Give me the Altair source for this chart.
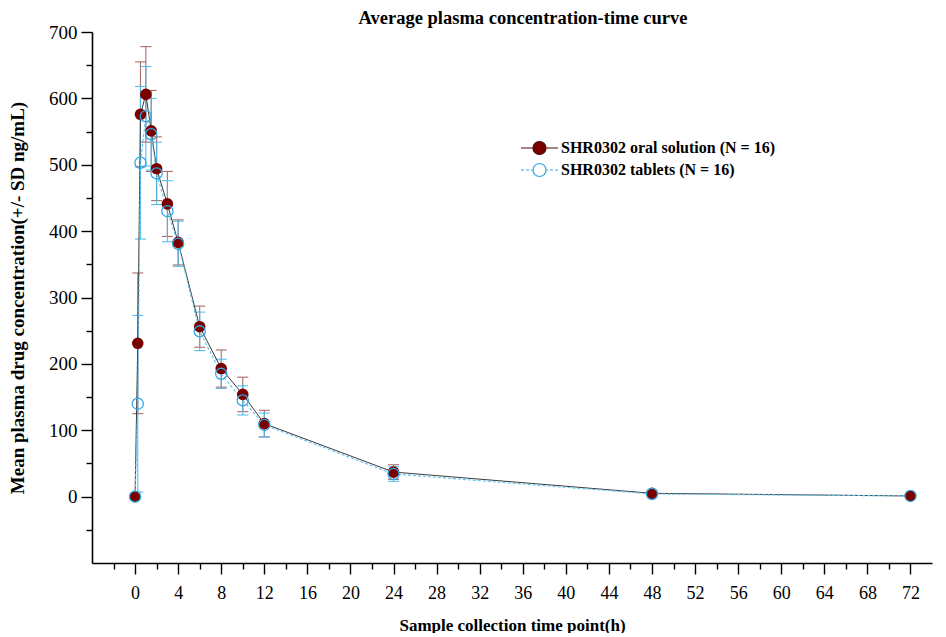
import altair as alt
import pandas as pd

time_h = [0, 0.25, 0.5, 1, 1.5, 2, 3, 4, 6, 8, 10, 12, 24, 48, 72]
oral_mean = [0, 231, 576, 606, 551, 494, 441, 383, 256, 193, 154, 110, 37, 5, 1]
oral_sd = [0, 106, 79, 72, 61, 48, 49, 34, 31, 28, 26, 20, 11, 3, 1]
tab_mean = [0, 140, 503, 573, 546, 487, 430, 381, 249, 185, 145, 108, 34, 4, 1]
tab_sd = [0, 133, 115, 75, 54, 47, 46, 34, 29, 22, 22, 18, 11, 3, 1]

series_names = ["SHR0302 oral solution (N = 16)", "SHR0302 tablets (N = 16)"]
x_major = list(range(0, 73, 4))
x_minor = list(range(-2, 74, 4))
y_major = list(range(0, 701, 100))
y_minor = list(range(-50, 700, 100))

FONT = "Liberation Serif"
RED = "#7A0000"
RED_LINE = "#3a3a3a"
RED_ERR = "#A65A5A"
BLUE = "#2FA8E2"
BLUE_ERR = "#45B8EC"


def frame(mean, sd, name):
    return pd.DataFrame({
        "time": time_h,
        "mean": mean,
        "lo": [m - s for m, s in zip(mean, sd)],
        "hi": [m + s for m, s in zip(mean, sd)],
        "series": name,
    })


oral = frame(oral_mean, oral_sd, series_names[0])
tab = frame(tab_mean, tab_sd, series_names[1])

xscale = alt.Scale(domain=[-4, 74], nice=False, zero=False)
yscale = alt.Scale(domain=[-100, 700], nice=False, zero=False)

xaxis = alt.Axis(
    values=x_major,
    title="Sample collection time point(h)",
    tickSize=11,
    grid=False,
    labelFlush=False,
    labelOverlap=False,
    orient="bottom",
    labelFontSize=18,
    titleFontSize=17,
    labelPadding=10,
    titlePadding=15,
)
yaxis = alt.Axis(
    values=y_major,
    title="Mean plasma drug concentration(+/- SD ng/mL)",
    tickSize=11,
    grid=False,
    labelFlush=False,
    labelOverlap=False,
    orient="left",
    labelFontSize=19,
    titleFontSize=19,
    labelPadding=4,
    titlePadding=21,
)
xaxis_minor = alt.Axis(values=x_minor, tickSize=6, labels=False, domain=False, title=None,
                       grid=False, orient="bottom")
yaxis_minor = alt.Axis(values=y_minor, tickSize=6, labels=False, domain=False, title=None,
                       grid=False, orient="left")


def errbars(df, color, first=False):
    base = alt.Chart(df)
    if first:
        xenc = alt.X("time:Q", scale=xscale, axis=xaxis)
        yenc = alt.Y("lo:Q", scale=yscale, axis=yaxis)
    else:
        xenc = alt.X("time:Q")
        yenc = alt.Y("lo:Q")
    rule = base.mark_rule(color=color, strokeWidth=1.1, opacity=0.9).encode(
        x=xenc, y=yenc, y2="hi:Q",
    )
    cap_hi = base.mark_tick(color=color, orient="horizontal", size=11, thickness=1.1, opacity=0.9).encode(
        x="time:Q", y="hi:Q"
    )
    cap_lo = base.mark_tick(color=color, orient="horizontal", size=11, thickness=1.1, opacity=0.9).encode(
        x="time:Q", y="lo:Q"
    )
    return rule + cap_hi + cap_lo


oral_line = alt.Chart(oral).mark_line(color=RED_LINE, strokeWidth=1).encode(
    x="time:Q", y="mean:Q"
)
tab_line = alt.Chart(tab).mark_line(color="#5BC3EE", strokeWidth=1.1, strokeDash=[3, 2]).encode(
    x="time:Q", y="mean:Q"
)
oral_pts = alt.Chart(oral).mark_point(filled=True, color=RED, size=135, opacity=1).encode(
    x="time:Q", y="mean:Q"
)
tab_pts = alt.Chart(tab).mark_point(filled=False, color=BLUE, size=125, strokeWidth=1.3, opacity=1).encode(
    x="time:Q", y="mean:Q"
)

main = alt.layer(
    errbars(oral, RED_ERR, first=True),
    errbars(tab, BLUE_ERR),
    oral_line,
    tab_line,
    oral_pts,
    tab_pts,
)

# legend symbols: unit = half of sqrt(symbolSize); line spans -1..2.7, circle centred at 0.85
red_sym = ("M -1 0 L 0.2 0 M 1.5 0 L 2.7 0 "
           "M 0.2 0 A 0.65 0.65 0 1 1 1.5 0 A 0.65 0.65 0 1 1 0.2 0 Z")
blue_sym = ("M -1 0 L -0.7 0 M -0.5 0 L -0.2 0 M 0 0 L 0.15 0 "
            "M 1.55 0 L 1.7 0 M 1.9 0 L 2.2 0 M 2.4 0 L 2.7 0 "
            "M 0.2 0 A 0.65 0.65 0 1 1 1.5 0 A 0.65 0.65 0 1 1 0.2 0 Z")

legend_df = pd.DataFrame({"series": series_names, "time": [0, 0], "mean": [0, 0]})
legend = alt.Legend(
    title=None,
    orient="none",
    legendX=428,
    legendY=105,
    labelFont=FONT,
    labelFontSize=16,
    labelFontWeight="bold",
    labelColor="#000000",
    labelLimit=500,
    symbolSize=400,
    symbolStrokeWidth=1.2,
    symbolOpacity=1,
    labelOffset=19,
    rowPadding=2,
)
legend_layer = alt.Chart(legend_df).transform_filter("false").mark_point(size=400, opacity=1).encode(
    x=alt.X("time:Q", axis=xaxis_minor),
    y=alt.Y("mean:Q", axis=yaxis_minor),
    shape=alt.Shape("series:N", scale=alt.Scale(domain=series_names, range=[red_sym, blue_sym]), legend=legend),
    stroke=alt.Stroke("series:N", scale=alt.Scale(domain=series_names, range=["#4a0a0a", BLUE]), legend=legend),
    fill=alt.Fill("series:N", scale=alt.Scale(domain=series_names, range=[RED, "#ffffff"]), legend=legend),
)

chart = alt.layer(main, legend_layer).resolve_axis(
    x="independent", y="independent"
).properties(
    width=840,
    height=531,
    title=alt.TitleParams(
        "Average plasma concentration-time curve",
        font=FONT,
        fontSize=18.5,
        fontWeight="bold",
        color="#000000",
        anchor="middle",
        dx=11,
        offset=-4,
    ),
).configure(
    background="#ffffff",
    padding={"left": 0, "top": 0, "right": 5, "bottom": 0},
).configure_view(
    stroke=None
).configure_axis(
    domainColor="#000000",
    domainWidth=1.6,
    tickColor="#000000",
    tickWidth=1.4,
    labelFont=FONT,
    labelColor="#000000",
    titleFont=FONT,
    titleFontWeight="bold",
    titleColor="#000000",
)

chart.save("out.html", embed_options={"renderer": "svg", "actions": False})
